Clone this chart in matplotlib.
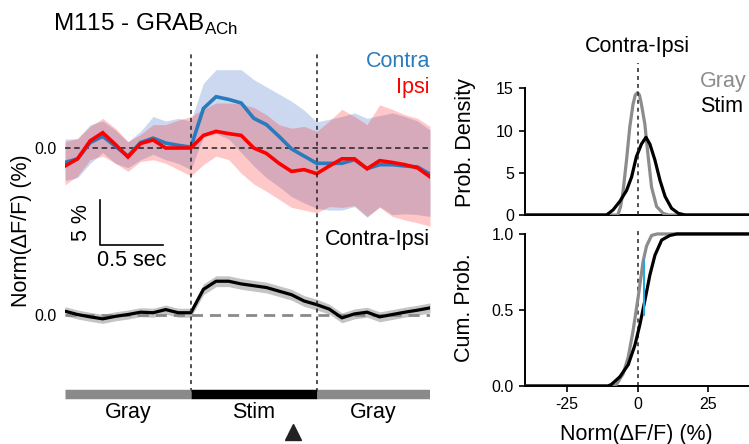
import matplotlib
matplotlib.use("Agg")
import matplotlib.pyplot as plt

plt.rcParams['font.family'] = ['Liberation Sans', 'DejaVu Sans']
plt.rcParams['mathtext.fontset'] = 'custom'
plt.rcParams['mathtext.rm'] = 'Liberation Sans'

# ---------------- data ----------------
time_s = [-1.0, -0.9, -0.8, -0.7, -0.6, -0.5, -0.4, -0.3, -0.2, -0.1,
          0.0, 0.1, 0.2, 0.3, 0.4, 0.5, 0.6, 0.7, 0.8, 0.9,
          1.0, 1.1, 1.2, 1.3, 1.4, 1.5, 1.6, 1.7, 1.8, 1.9]

contra = [-1.6, -1.2, 0.6, 1.3, 0.2, -0.9, 0.6, 1.1, 0.55, 0.3,
          0.1, 4.4, 5.7, 5.4, 5.0, 3.3, 2.6, 1.3, -0.1, -0.9,
          -1.7, -1.7, -1.7, -1.3, -2.3, -1.85, -1.85, -2.0, -2.1, -2.9]
contra_hi = [1.0, 1.0, 2.6, 3.0, 2.0, 0.7, 1.85, 3.5, 3.0, 3.3,
             3.0, 7.2, 8.7, 8.7, 8.7, 7.6, 6.8, 6.0, 5.2, 4.2,
             2.9, 3.2, 3.5, 3.9, 3.3, 3.6, 3.9, 3.5, 3.0, 2.0]
contra_lo = [-3.6, -3.3, -1.7, -0.5, -1.7, -2.2, -1.3, -0.7, -1.3, -1.7,
             -2.4, 1.3, 1.6, 1.0, -0.5, -2.0, -3.3, -4.3, -5.4, -6.1,
             -6.7, -6.9, -6.9, -6.5, -7.7, -6.5, -7.4, -7.3, -7.4, -7.6]

ipsi = [-2.0, -1.2, 0.8, 1.7, 0.4, -1.0, 0.5, 0.9, 0.0, 0.0,
        0.0, 1.4, 1.85, 1.6, 1.4, 0.0, -0.6, -1.7, -2.6, -2.4,
        -2.85, -2.0, -1.2, -1.2, -2.3, -1.4, -1.6, -1.85, -2.2, -3.2]
ipsi_hi = [0.7, 1.1, 2.4, 3.3, 2.2, 0.7, 1.5, 2.6, 2.6, 3.1,
           3.5, 4.3, 5.0, 5.0, 4.9, 4.5, 3.7, 2.6, 2.2, 2.4,
           1.85, 3.0, 4.3, 3.5, 2.6, 4.8, 4.3, 3.7, 3.3, 2.4]
ipsi_lo = [-4.1, -3.1, -1.3, -0.9, -1.7, -2.6, -1.5, -1.3, -1.7, -2.4,
           -3.1, -1.85, -0.9, -1.3, -2.8, -4.0, -4.8, -5.7, -6.6, -6.9,
           -7.2, -6.5, -6.6, -6.4, -7.6, -6.6, -7.6, -8.0, -8.3, -8.7]

diff = [0.37, 0.0, -0.26, -0.48, -0.2, 0.0, 0.26, 0.2, 0.55, 0.2,
        0.2, 2.8, 3.7, 3.7, 3.4, 3.2, 3.0, 2.6, 2.2, 1.5,
        1.1, 0.6, -0.37, 0.07, 0.26, -0.26, 0.0, 0.26, 0.48, 0.74]
diff_err = [0.5, 0.5, 0.5, 0.5, 0.5, 0.5, 0.5, 0.5, 0.5, 0.5,
            0.5, 0.6, 0.6, 0.6, 0.6, 0.6, 0.6, 0.6, 0.6, 0.6,
            0.6, 0.55, 0.55, 0.55, 0.55, 0.55, 0.55, 0.55, 0.55, 0.55]

epoch_edges = [-1.0, 0.0, 1.0, 1.9]
epoch_labels = ['Gray', 'Stim', 'Gray']
epoch_colors = ['#8a8a8a', '#000000', '#8a8a8a']
marker_time = 0.81

gray_pdf_x = [-40, -7.0, -6.0, -5.1, -3.9, -2.75, -1.6, -0.8, 0.0, 0.7, 1.4, 2.6, 3.8, 5.0, 6.8, 9.1, 11.0, 40]
gray_pdf_y = [0, 0, 1.0, 2.9, 6.5, 10.4, 13.1, 14.2, 14.5, 14.2, 13.1, 10.8, 6.9, 3.3, 1.0, 0.2, 0, 0]
stim_pdf_x = [-40, -11.0, -8.7, -6.3, -3.9, -2.1, -0.4, 1.4, 3.0, 4.4, 6.2, 8.0, 9.8, 12.1, 14.5, 17.0, 40]
stim_pdf_y = [0, 0, 0.6, 1.6, 2.9, 4.5, 6.9, 8.4, 9.2, 8.4, 6.5, 4.1, 2.2, 0.8, 0.2, 0, 0]

gray_cdf_x = [-40, -8.5, -7.5, -5.1, -3.3, -1.6, 0.2, 2.0, 3.2, 5.0, 7.0, 40]
gray_cdf_y = [0, 0, 0.01, 0.08, 0.19, 0.36, 0.58, 0.82, 0.92, 0.99, 1.0, 1.0]
stim_cdf_x = [-40, -10.5, -9.3, -6.3, -3.3, -0.9, 0.8, 2.6, 4.4, 6.2, 8.6, 11.5, 14.0, 40]
stim_cdf_y = [0, 0, 0.01, 0.06, 0.14, 0.27, 0.40, 0.56, 0.73, 0.86, 0.96, 0.99, 1.0, 1.0]

ks_x = 2.3
ks_lo = 0.47
ks_hi = 0.83

pdf_ticks = [0, 5, 10, 15]
cdf_ticks = [0.0, 0.5, 1.0]
cdf_ticklabels = ['0.0', '0.5', '1.0']
x_ticks = [-25, 0, 25]
x_ticklabels = ['-25', '0', '25']

# ---------------- layout ----------------
W, H = 749, 444
fig = plt.figure(figsize=(W / 100, H / 100), dpi=100)


def rect(x0, y0, x1, y1):
    return [x0 / W, 1 - y1 / H, (x1 - x0) / W, (y1 - y0) / H]


BIG = 15.5
TICK = 11.5
DIFF_OFFSET = -18.5

BLUE = '#2a7bbd'
RED = '#ff0000'

ax = fig.add_axes(rect(65, 50, 430, 440))
ax.set_xlim(-1.0, 1.9)
ax.set_ylim(-32.44, 10.89)
for s in ax.spines.values():
    s.set_visible(False)
ax.set_xticks([])
ax.set_yticks([0, DIFF_OFFSET])
ax.set_yticklabels(['0.0', '0.0'], fontsize=TICK)
ax.tick_params(axis='y', length=0, pad=6)
ax.patch.set_alpha(0)

# bands
ax.fill_between(time_s, contra_lo, contra_hi, color='#4472c4', alpha=0.27, lw=0, zorder=1)
ax.fill_between(time_s, ipsi_lo, ipsi_hi, color='#ff0000', alpha=0.215, lw=0, zorder=2)
ax.plot([-1.0, 1.9], [0, 0], color='#222222', lw=1.1, dashes=(3.6, 2.4), zorder=3)
ax.plot(time_s, contra, color=BLUE, lw=2.6, zorder=4, solid_joinstyle='miter')
ax.plot(time_s, ipsi, color=RED, lw=2.6, zorder=5, solid_joinstyle='miter')

# difference trace
d_shift = [v + DIFF_OFFSET for v in diff]
d_lo = [v + DIFF_OFFSET - e for v, e in zip(diff, diff_err)]
d_hi = [v + DIFF_OFFSET + e for v, e in zip(diff, diff_err)]
ax.fill_between(time_s, d_lo, d_hi, color='#c4c4c4', lw=0, zorder=1)
ax.plot([-1.0, 1.9], [DIFF_OFFSET, DIFF_OFFSET], color='#8a8a8a', lw=2.0, dashes=(4, 2.5), zorder=3)
ax.plot(time_s, d_shift, color='black', lw=2.3, zorder=4)

# stim onset/offset lines
for t in epoch_edges[1:3]:
    ax.plot([t, t], [-27.1, 10.5], color='#222222', lw=1.1, dashes=(2.6, 2.6), zorder=6)

# epoch bar
for i in range(3):
    ax.plot([epoch_edges[i], epoch_edges[i + 1]], [-27.3, -27.3], color=epoch_colors[i],
            lw=6.8, solid_capstyle='butt', zorder=6)
    ax.text((epoch_edges[i] + epoch_edges[i + 1]) / 2, -29.4, epoch_labels[i],
            ha='center', va='center', fontsize=BIG)
ax.plot([marker_time], [-31.6], marker='^', color='#222222', ms=11, clip_on=False, zorder=7)

# scale bar
ax.plot([-0.72, -0.72, -0.22], [-5.8, -10.8, -10.8], color='black', lw=1.2, zorder=6)
ax.text(-0.87, -8.3, '5 %', rotation=90, ha='center', va='center', fontsize=BIG)
ax.text(-0.47, -12.5, '0.5 sec', ha='center', va='center', fontsize=BIG)

# labels
ax.text(1.9, 9.6, 'Contra', color=BLUE, ha='right', va='center', fontsize=BIG)
ax.text(1.9, 6.7, 'Ipsi', color=RED, ha='right', va='center', fontsize=BIG)
ax.text(1.9, -10.2, 'Contra-Ipsi', color='black', ha='right', va='center', fontsize=BIG)

fig.text(22 / W, 1 - 231 / H, 'Norm(ΔF/F) (%)', rotation=90, ha='center', va='center', fontsize=BIG)
fig.text(53 / W, 1 - 24 / H, r'M115 - GRAB$_{\mathregular{ACh}}$', ha='left', va='center', fontsize=17.5)

# ---------------- right panels ----------------
GRAYC = '#8c8c8c'

ax1 = fig.add_axes(rect(525, 63, 750, 215))
ax1.set_xlim(-40, 40)
ax1.set_ylim(0, 18)
ax1.plot(gray_pdf_x, gray_pdf_y, color=GRAYC, lw=2.3, zorder=3)
ax1.plot(stim_pdf_x, stim_pdf_y, color='black', lw=2.3, zorder=4)
ax1.axvline(0, color='#222222', lw=1.1, dashes=(2.6, 2.6), zorder=5)

ax2 = fig.add_axes(rect(525, 230, 750, 386))
ax2.set_xlim(-40, 40)
ax2.set_ylim(0, 1.026)
ax2.plot(gray_cdf_x, gray_cdf_y, color=GRAYC, lw=2.3, zorder=3)
ax2.plot(stim_cdf_x, stim_cdf_y, color='black', lw=2.3, zorder=4)
ax2.plot([ks_x, ks_x], [ks_lo, ks_hi], color='#1fa8e6', lw=1.4, zorder=5)
ax2.axvline(0, color='#222222', lw=1.1, dashes=(2.6, 2.6), zorder=2)

for a in (ax1, ax2):
    a.spines['top'].set_visible(False)
    a.spines['right'].set_visible(False)
    a.spines['left'].set_linewidth(1.4)
    a.spines['bottom'].set_linewidth(1.4)
    a.patch.set_alpha(0)
    a.tick_params(width=1.2, length=4.5, labelsize=TICK, direction='out')

ax1.spines['left'].set_bounds(0, 15)
ax1.set_yticks(pdf_ticks)
ax1.set_xticks([])
ax2.spines['left'].set_bounds(0, 1)
ax2.set_yticks(cdf_ticks)
ax2.set_yticklabels(cdf_ticklabels)
ax2.set_xticks(x_ticks)
ax2.set_xticklabels(x_ticklabels)

fig.text(465 / W, 1 - 143 / H, 'Prob. Density', rotation=90, ha='center', va='center', fontsize=BIG)
fig.text(465 / W, 1 - 308 / H, 'Cum. Prob.', rotation=90, ha='center', va='center', fontsize=BIG)
fig.text(636 / W, 1 - 434 / H, 'Norm(ΔF/F) (%)', ha='center', va='center', fontsize=BIG)
fig.text(637 / W, 1 - 46 / H, 'Contra-Ipsi', ha='center', va='center', fontsize=BIG)
fig.text(700 / W, 1 - 82 / H, 'Gray', color=GRAYC, ha='left', va='center', fontsize=BIG)
fig.text(700 / W, 1 - 107 / H, 'Stim', color='black', ha='left', va='center', fontsize=BIG)

fig.savefig('out.png', dpi=100)
